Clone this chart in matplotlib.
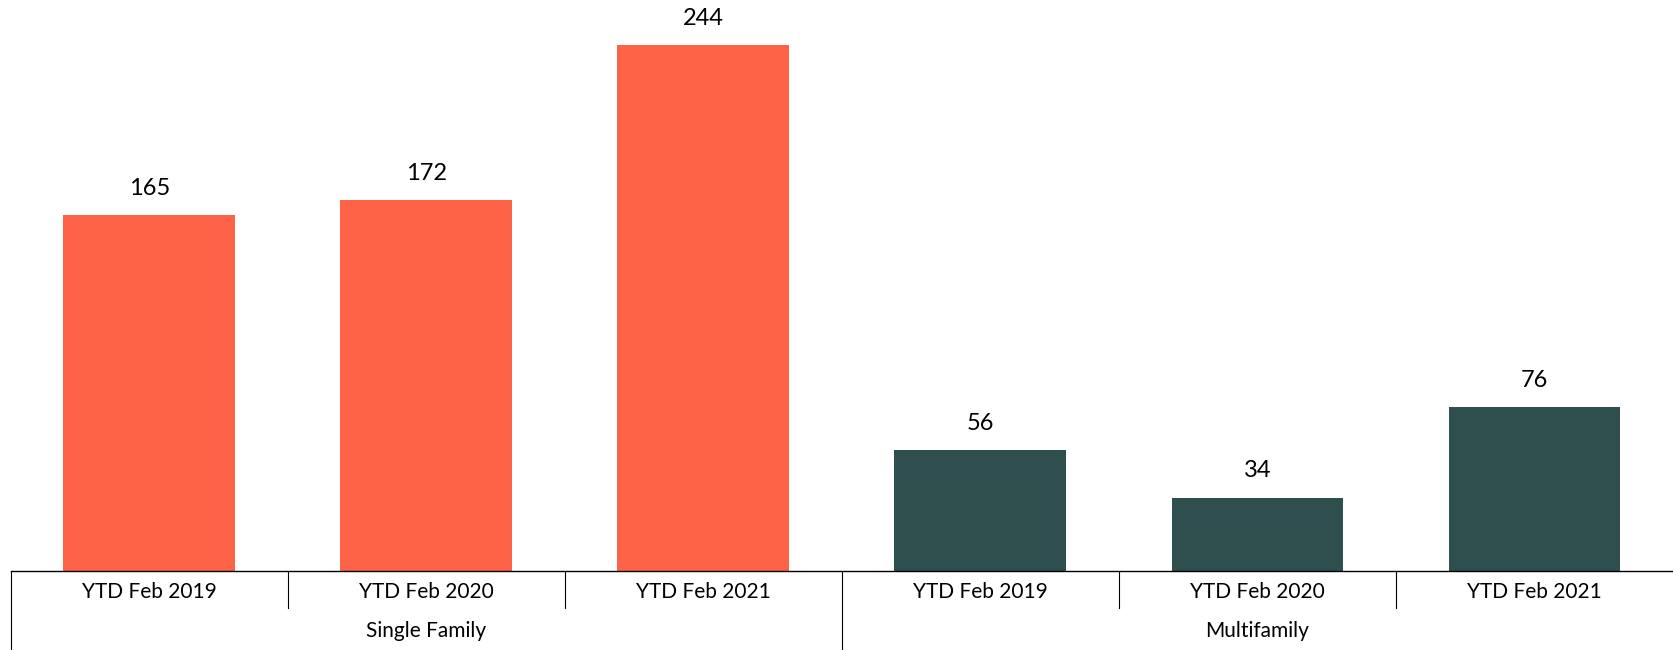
import matplotlib
matplotlib.use('Agg')
import matplotlib.pyplot as plt
from matplotlib.transforms import blended_transform_factory

plt.rcParams['font.family'] = ['Lato', 'DejaVu Sans']

years = ['YTD Feb 2019', 'YTD Feb 2020', 'YTD Feb 2021']
groups = ['Single Family', 'Multifamily']
single_family = [165, 172, 244]
multifamily = [56, 34, 76]

colors = ['#FF6347', '#2F4F4F']

fig = plt.figure(figsize=(16.73, 6.5), dpi=100)
ax = fig.add_axes([0.0064, 0.1215, 0.9936, 0.8785])

values = single_family + multifamily
bar_colors = [colors[0]] * 3 + [colors[1]] * 3
xs = list(range(len(values)))
bars = ax.bar(xs, values, width=0.62, color=bar_colors)

for b, v in zip(bars, values):
    ax.annotate(str(v), (b.get_x() + b.get_width() / 2, v), xytext=(0, 12),
                textcoords='offset points', ha='center', va='bottom', fontsize=17)

ax.set_xlim(-0.5, 5.5)
ax.set_ylim(0, 265)
for s in ['top', 'left', 'right']:
    ax.spines[s].set_visible(False)
ax.spines['bottom'].set_linewidth(1.0)
ax.set_xticks([])
ax.set_yticks([])

tr = blended_transform_factory(ax.transData, ax.transAxes)

# category separators
for x in [0.5, 1.5, 3.5, 4.5]:
    ax.plot([x, x], [0, -0.065], color='black', lw=0.8, transform=tr, clip_on=False)
for x in [-0.5, 2.5]:
    ax.plot([x, x], [0, -0.14], color='black', lw=0.8, transform=tr, clip_on=False)

labels = years + years
for x, lab in zip(xs, labels):
    ax.text(x, -0.037, lab, transform=tr, ha='center', va='center', fontsize=15)
for i, g in enumerate(groups):
    ax.text(1 + 3 * i, -0.105, g, transform=tr, ha='center', va='center', fontsize=15)

fig.savefig('out.png', dpi=100)
